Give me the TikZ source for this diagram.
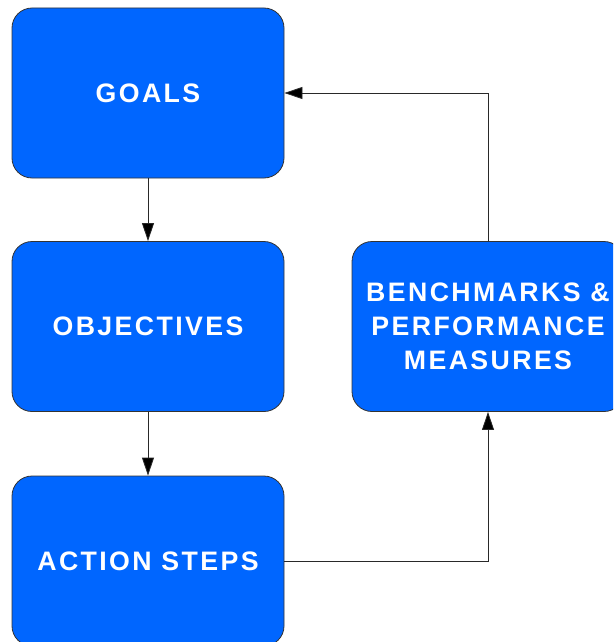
\documentclass[tikz,border=0pt]{standalone}
\usepackage{fontspec}
\setmainfont{Liberation Sans}[LetterSpace=9]
\usetikzlibrary{arrows.meta}
\definecolor{boxblue}{HTML}{0066FF}
\definecolor{edgegray}{HTML}{333333}
\begin{document}
\begin{tikzpicture}[x=1pt,y=-1pt,
  stagebox/.style={draw=edgegray, line width=0.8pt, fill=boxblue,
    rounded corners=20pt, minimum width=272pt, minimum height=170pt,
    inner sep=0pt, text=white, align=center,
    font=\fontsize{26.7}{34}\selectfont\bfseries},
  link/.style={draw=edgegray!80!black, line width=0.8pt,
    -{Triangle[length=18pt,width=12pt,fill=black]}}]
  \useasboundingbox (0,0) rectangle (613,642);
  \clip (0,0) rectangle (613,642);
  \node[stagebox] (goals) at (148,93) {GOALS};
  \node[stagebox] (obj) at (148,326.5) {OBJECTIVES};
  \node[stagebox] (act) at (148,561) {ACTION STEPS};
  \node[stagebox] (bench) at (488,326.5) {BENCHMARKS \&\\PERFORMANCE\\MEASURES};
  \draw[link] (goals) -- (obj);
  \draw[link] (obj) -- (act);
  \draw[link] (act.east) -| (bench.south);
  \draw[link] (bench.north) |- (goals.east);
\end{tikzpicture}
\end{document}
